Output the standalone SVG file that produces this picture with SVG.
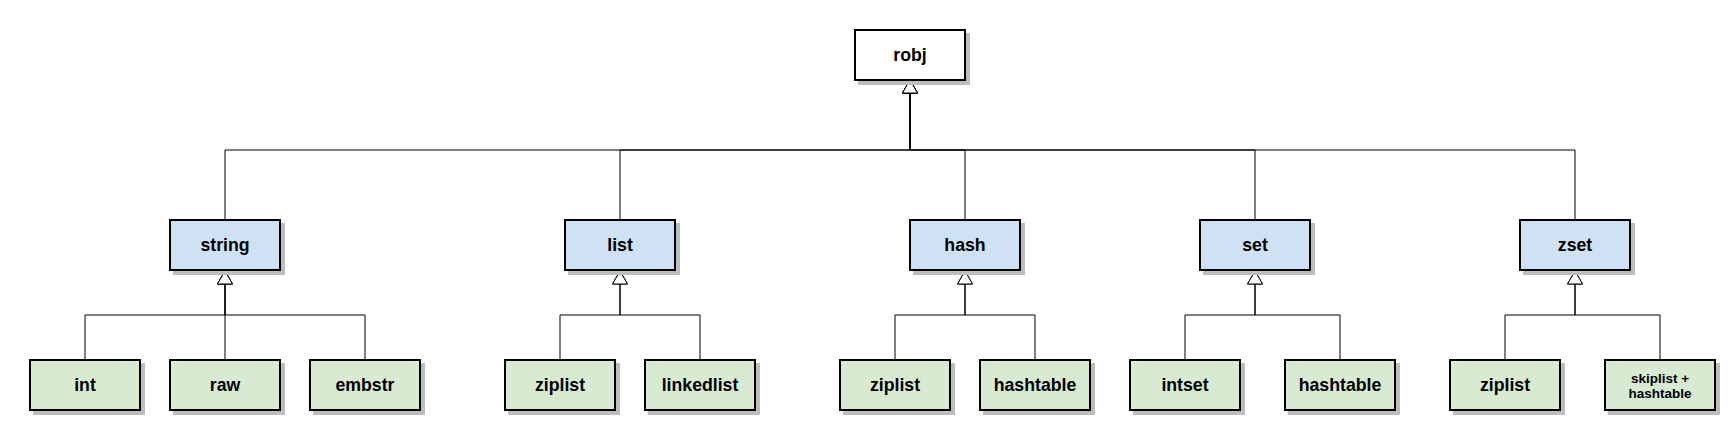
<svg xmlns="http://www.w3.org/2000/svg" width="1735" height="430" viewBox="0 0 1735 430">
<style>
.sh{fill:#bdbdbd;stroke:#bdbdbd;stroke-width:2}
.bx{stroke:#000;stroke-width:2}
.w{fill:#ffffff}
.b{fill:#cfe2f3}
.g{fill:#d9ead3}
.t{font-family:"Liberation Sans",Arial,sans-serif;font-weight:bold;font-size:17.7px;text-anchor:middle;fill:#000}
.ts{font-size:13.5px}
.e{fill:none;stroke:#000;stroke-width:1}
.ea{marker-end:url(#tri)}
</style>
<defs>
<marker id="tri" viewBox="0 0 16 17" refX="1" refY="8.5" markerWidth="16" markerHeight="17" markerUnits="userSpaceOnUse" orient="auto">
<path d="M1,1 L14,8.5 L1,16 Z" fill="#fff" stroke="#000" stroke-width="1"/>
</marker>
</defs>
<g id="connectors">
<path class="e ea" d="M225,220 V150 H910 V93"/>
<path class="e ea" d="M620,220 V150 H910 V93"/>
<path class="e ea" d="M965,220 V150 H910 V93"/>
<path class="e ea" d="M1255,220 V150 H910 V93"/>
<path class="e ea" d="M1575,220 V150 H910 V93"/>
<path class="e ea" d="M85,360 V315 H225 V284"/>
<path class="e ea" d="M225,360 V315 H225 V284"/>
<path class="e ea" d="M365,360 V315 H225 V284"/>
<path class="e ea" d="M560,360 V315 H620 V284"/>
<path class="e ea" d="M700,360 V315 H620 V284"/>
<path class="e ea" d="M895,360 V315 H965 V284"/>
<path class="e ea" d="M1035,360 V315 H965 V284"/>
<path class="e ea" d="M1185,360 V315 H1255 V284"/>
<path class="e ea" d="M1340,360 V315 H1255 V284"/>
<path class="e ea" d="M1505,360 V315 H1575 V284"/>
<path class="e ea" d="M1660,360 V315 H1575 V284"/>
</g>
<g id="robj"><rect class="sh" x="859" y="34" width="110" height="50"/><rect class="bx w" x="855" y="30" width="110" height="50"/><text class="t" x="910" y="60.5">robj</text></g>
<g id="string"><rect class="sh" x="174" y="224" width="110" height="50"/><rect class="bx b" x="170" y="220" width="110" height="50"/><text class="t" x="225" y="250.5">string</text></g>
<g id="list"><rect class="sh" x="569" y="224" width="110" height="50"/><rect class="bx b" x="565" y="220" width="110" height="50"/><text class="t" x="620" y="250.5">list</text></g>
<g id="hash"><rect class="sh" x="914" y="224" width="110" height="50"/><rect class="bx b" x="910" y="220" width="110" height="50"/><text class="t" x="965" y="250.5">hash</text></g>
<g id="set"><rect class="sh" x="1204" y="224" width="110" height="50"/><rect class="bx b" x="1200" y="220" width="110" height="50"/><text class="t" x="1255" y="250.5">set</text></g>
<g id="zset"><rect class="sh" x="1524" y="224" width="110" height="50"/><rect class="bx b" x="1520" y="220" width="110" height="50"/><text class="t" x="1575" y="250.5">zset</text></g>
<g id="int"><rect class="sh" x="34" y="364" width="110" height="50"/><rect class="bx g" x="30" y="360" width="110" height="50"/><text class="t" x="85" y="390.5">int</text></g>
<g id="raw"><rect class="sh" x="174" y="364" width="110" height="50"/><rect class="bx g" x="170" y="360" width="110" height="50"/><text class="t" x="225" y="390.5">raw</text></g>
<g id="embstr"><rect class="sh" x="314" y="364" width="110" height="50"/><rect class="bx g" x="310" y="360" width="110" height="50"/><text class="t" x="365" y="390.5">embstr</text></g>
<g id="list-ziplist"><rect class="sh" x="509" y="364" width="110" height="50"/><rect class="bx g" x="505" y="360" width="110" height="50"/><text class="t" x="560" y="390.5">ziplist</text></g>
<g id="linkedlist"><rect class="sh" x="649" y="364" width="110" height="50"/><rect class="bx g" x="645" y="360" width="110" height="50"/><text class="t" x="700" y="390.5">linkedlist</text></g>
<g id="hash-ziplist"><rect class="sh" x="844" y="364" width="110" height="50"/><rect class="bx g" x="840" y="360" width="110" height="50"/><text class="t" x="895" y="390.5">ziplist</text></g>
<g id="hash-hashtable"><rect class="sh" x="984" y="364" width="110" height="50"/><rect class="bx g" x="980" y="360" width="110" height="50"/><text class="t" x="1035" y="390.5">hashtable</text></g>
<g id="intset"><rect class="sh" x="1134" y="364" width="110" height="50"/><rect class="bx g" x="1130" y="360" width="110" height="50"/><text class="t" x="1185" y="390.5">intset</text></g>
<g id="set-hashtable"><rect class="sh" x="1289" y="364" width="110" height="50"/><rect class="bx g" x="1285" y="360" width="110" height="50"/><text class="t" x="1340" y="390.5">hashtable</text></g>
<g id="zset-ziplist"><rect class="sh" x="1454" y="364" width="110" height="50"/><rect class="bx g" x="1450" y="360" width="110" height="50"/><text class="t" x="1505" y="390.5">ziplist</text></g>
<g id="skiplist-hashtable"><rect class="sh" x="1609" y="364" width="110" height="50"/><rect class="bx g" x="1605" y="360" width="110" height="50"/><text class="t ts" x="1660" y="382.5">skiplist +</text><text class="t ts" x="1660" y="398">hashtable</text></g>
</svg>
